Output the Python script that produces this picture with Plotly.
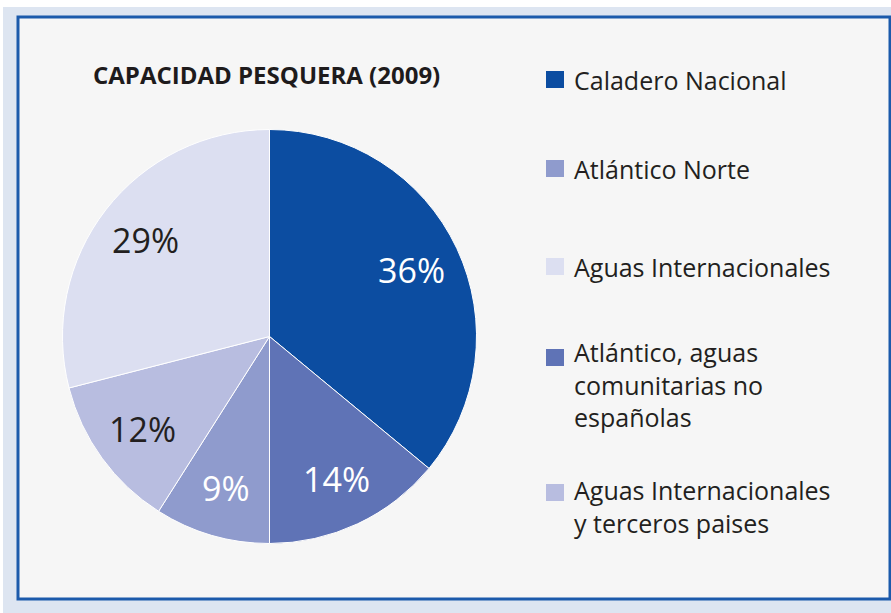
import math
import plotly.graph_objects as go

# slices, clockwise from 12 o'clock
labels = ['Caladero Nacional', 'Atlántico, aguas comunitarias no españolas', 'Atlántico Norte',
          'Aguas Internacionales y terceros paises', 'Aguas Internacionales']
values = [36, 14, 9, 12, 29]
colors = ['#0c4da1', '#5f73b6', '#8f9bcd', '#b8bde0', '#dcdff1']
text_colors = ['white', 'white', 'white', '#231f20', '#231f20']

# legend, in the order it is shown
legend_labels = ['Caladero Nacional', 'Atlántico Norte', 'Aguas Internacionales',
                 'Atlántico, aguas<br>comunitarias no<br>españolas',
                 'Aguas Internacionales<br>y terceros paises']
legend_colors = ['#0c4da1', '#8f9bcd', '#dcdff1', '#5f73b6', '#b8bde0']
legend_tops = [71, 160, 258, 349, 484]

W, H = 891, 613
FONT = 'Open Sans'
CX, CY, R = 269.5, 336.5, 207


def px(x):
    return x / W


def py(y):
    return 1 - y / H


fig = go.Figure(go.Pie(
    labels=labels,
    values=values,
    sort=False,
    direction='clockwise',
    rotation=0,
    marker=dict(colors=colors, line=dict(color='white', width=1)),
    textinfo='none',
    showlegend=False,
    hoverinfo='label+percent',
    domain=dict(x=[px(CX - R), px(CX + R)], y=[py(CY + R), py(CY - R)]),
))

shapes = [
    dict(type='rect', xref='paper', yref='paper', x0=px(3), x1=1, y0=0, y1=py(7),
         fillcolor='#dde5f1', line_width=0, layer='below'),
    dict(type='rect', xref='paper', yref='paper', x0=px(18), x1=px(890), y0=py(599), y1=py(17),
         fillcolor='#f6f6f6', line=dict(color='#1b5aab', width=3), layer='below'),
]
annotations = [
    dict(text='<b>CAPACIDAD PESQUERA (2009)</b>', x=px(91), y=py(75), xref='paper', yref='paper',
         xanchor='left', yanchor='middle', showarrow=False,
         font=dict(family=FONT, size=24, color='#1e1b1c')),
]

# percentage labels placed at the middle angle of each slice
total = sum(values)
cum = 0
for v, tc in zip(values, text_colors):
    ang = 2 * math.pi * (cum + v / 2) / total
    cum += v
    lx = CX + 0.76 * R * math.sin(ang)
    ly = CY - 0.76 * R * math.cos(ang)
    annotations.append(dict(text=f'{v}%', x=px(lx), y=py(ly), xref='paper', yref='paper',
                            xanchor='center', yanchor='middle', showarrow=False,
                            font=dict(family=FONT, size=34, color=tc)))

for lab, col, top in zip(legend_labels, legend_colors, legend_tops):
    shapes.append(dict(type='rect', xref='paper', yref='paper', x0=px(546), x1=px(564),
                       y0=py(top + 17), y1=py(top), fillcolor=col, line_width=0))
    n = lab.count('<br>')
    annotations.append(dict(text=lab, x=px(572), y=py(top + 9 + 26.5 * n / 2), xref='paper', yref='paper',
                            xanchor='left', yanchor='middle', align='left', showarrow=False,
                            font=dict(family=FONT, size=25, color='#231f20')))

fig.update_layout(
    width=W, height=H,
    margin=dict(l=0, r=0, t=0, b=0),
    paper_bgcolor='white',
    shapes=shapes,
    annotations=annotations,
)

fig.write_html('out.html', config={'displayModeBar': False},
               post_script="document.body.style.margin='0';")
